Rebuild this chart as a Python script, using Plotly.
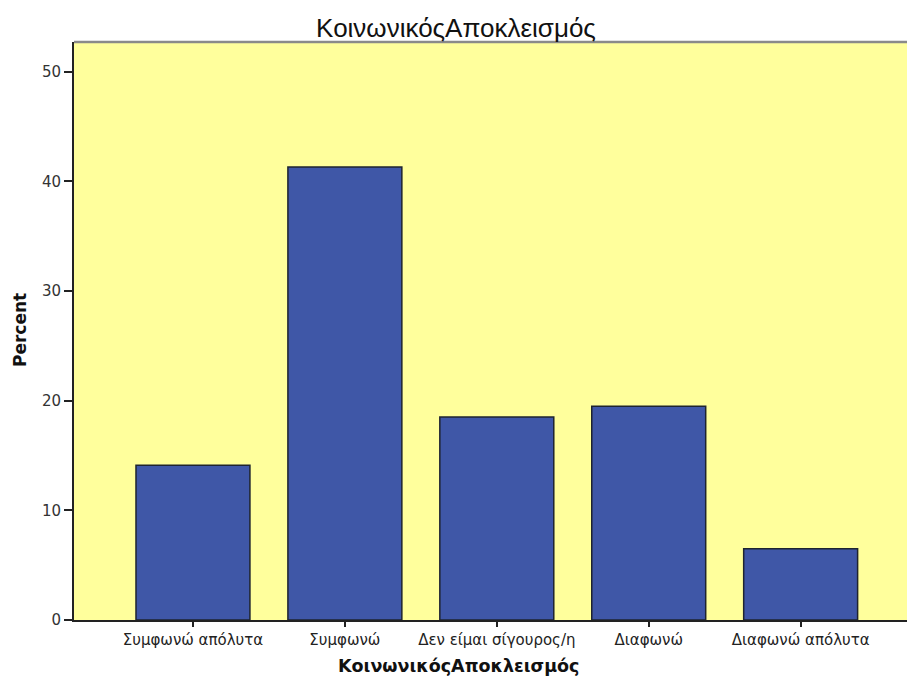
import plotly.graph_objects as go

categories = ["Συμφωνώ απόλυτα", "Συμφωνώ", "Δεν είμαι σίγουρος/η", "Διαφωνώ", "Διαφωνώ απόλυτα"]
percent = [14.1, 41.3, 18.5, 19.5, 6.5]
y_ticks = [0, 10, 20, 30, 40, 50]

title_text = "ΚοινωνικόςΑποκλεισμός"
x_title = "ΚοινωνικόςΑποκλεισμός"
y_title = "Percent"

W, H = 907, 684

fig = go.Figure()
fig.add_trace(go.Bar(
    x=list(range(len(categories))),
    y=percent,
    width=0.75,
    marker=dict(color="#3F57A7", line=dict(color="#1E2430", width=1.5)),
    hoverinfo="y",
))

fig.update_layout(
    width=W, height=H,
    margin=dict(l=74, r=0, t=42, b=64),
    paper_bgcolor="white",
    plot_bgcolor="#FFFF9C",
    showlegend=False,
    title=dict(text=title_text, x=456 / W, xanchor="center", y=1 - 28 / H, yanchor="middle",
               font=dict(family="Liberation Sans", size=26, color="#111")),
    font=dict(family="DejaVu Sans", color="#222"),
)

fig.update_xaxes(
    range=[-0.783, 4.70],
    tickmode="array",
    tickvals=list(range(len(categories))),
    ticktext=categories,
    ticks="outside", ticklen=5, tickwidth=1.5, tickcolor="#222",
    tickfont=dict(family="DejaVu Sans", size=15, color="#222"),
    showline=True, linecolor="#222", linewidth=2,
    showgrid=False, zeroline=False,
)
fig.update_yaxes(
    range=[0, 52.7],
    tickmode="array",
    tickvals=y_ticks,
    ticks="outside", ticklen=8, tickwidth=1.5, tickcolor="#222",
    tickfont=dict(family="DejaVu Sans", size=15, color="#333"),
    showline=True, linecolor="#222", linewidth=2,
    showgrid=False, zeroline=False,
)

# axis titles placed as annotations in pixel-based paper coordinates
fig.add_annotation(text="<b>" + x_title + "</b>", xref="paper", yref="paper",
                   x=(458 - 74) / (W - 74), y=-(666 - 620) / (620 - 42),
                   xanchor="center", yanchor="middle", showarrow=False,
                   font=dict(family="DejaVu Sans", size=17.5, color="#111"))
fig.add_annotation(text="<b>" + y_title + "</b>", xref="paper", yref="paper",
                   x=-(74 - 20) / (W - 74), y=(620 - 330) / (620 - 42),
                   xanchor="center", yanchor="middle", textangle=-90, showarrow=False,
                   font=dict(family="DejaVu Sans", size=17, color="#111"))

fig.add_shape(type="line", xref="paper", yref="paper", x0=0, x1=1, y0=1, y1=1,
              line=dict(color="#8A8A8A", width=2.5))

fig.write_html("out.html", config={"displayModeBar": False},
               post_script="document.body.style.margin='0';")
